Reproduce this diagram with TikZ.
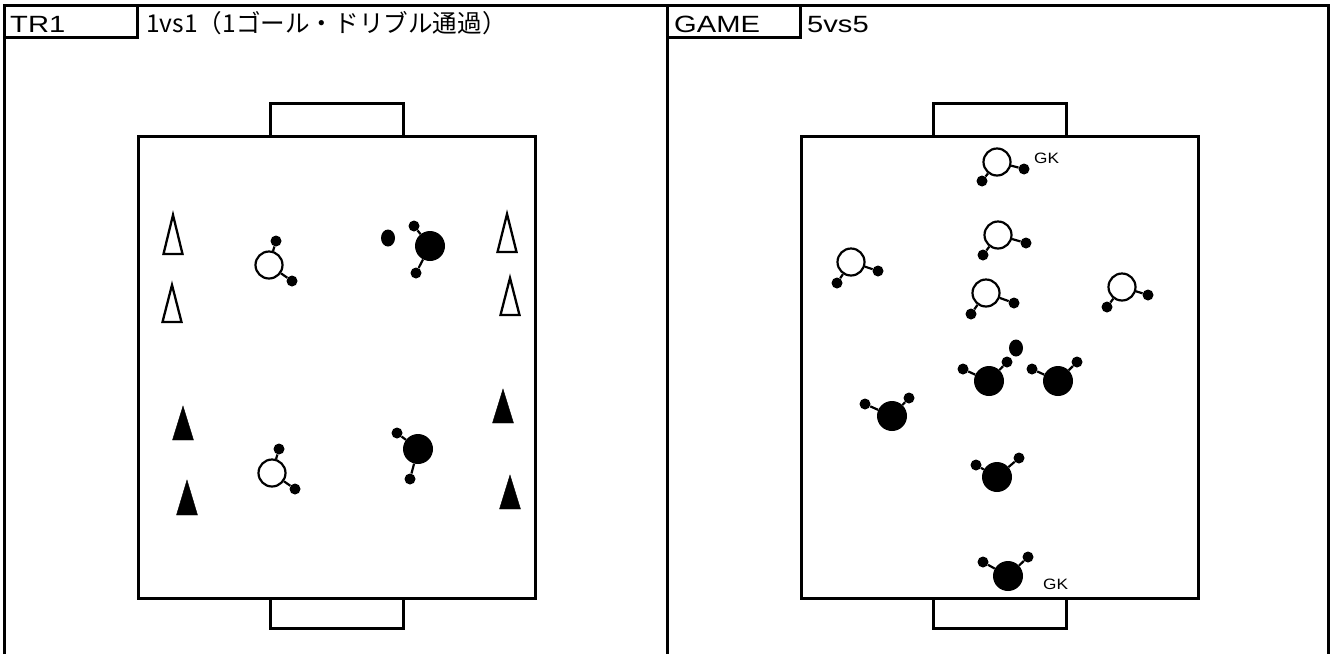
\documentclass[tikz,border=0pt]{standalone}
\usepackage{fontspec}
\setmainfont{Liberation Sans}
\newfontfamily\jpfont{Noto Sans CJK JP}
\usetikzlibrary{shapes.geometric}
\tikzset{
  frame/.style={line width=3pt},
  hdr/.style={anchor=base west, inner sep=0pt, font=\fontsize{23.5}{28}\selectfont},
  wp/.style={circle, draw, line width=2.2pt, minimum size=27pt, inner sep=0pt, fill=white},
  bp/.style={circle, fill=black, minimum size=30pt, inner sep=0pt},
  dot/.style={circle, fill=black, minimum size=11pt, inner sep=0pt},
  stem/.style={line width=2.2pt},
  ballst/.style={ellipse, fill=black, minimum width=14pt, minimum height=17pt, inner sep=0pt},
  wcone/.style={draw, line width=2.3pt, fill=white},
  bcone/.style={fill=black},
  gk/.style={anchor=base west, inner sep=0pt, font=\fontsize{15}{17}\selectfont}
}
\newcommand\wide[1]{\scalebox{1.24}[1]{#1}}
\newcommand\plyr[5]{%
  \node[#5] (#1) at (#2) {};
  \node[dot] (#1a) at (#3) {};
  \node[dot] (#1b) at (#4) {};
  \draw[stem] (#1) -- (#1a);
  \draw[stem] (#1) -- (#1b);
}
\newcommand\conedraw[5]{%
  \draw[#5] (#1,#2) -- (#1-#4,#3) -- (#1+#4,#3) -- cycle;
}
\begin{document}
\begin{tikzpicture}[x=1pt,y=-1pt]
\useasboundingbox (0,0) rectangle (1332,654);
% outer frame
\draw[frame] (4,654) -- (4,5) -- (1328,5) -- (1328,654);
\draw[frame] (667,5) -- (667,654);
\draw[frame] (4,37) -- (137,37) -- (137,5);
\draw[frame] (667,37) -- (800,37) -- (800,5);
% headers
\node[hdr] (tr) at (10,32) {\wide{TR1}};
\node[hdr, font=\fontsize{24.6}{28}\selectfont] (title) at (146,32) {\jpfont 1vs1（1ゴール・ドリブル通過）};
\node[hdr] (game) at (674,32) {\wide{GAME}};
\node[hdr] (fvf) at (807,32) {\wide{5vs5}};
% left field
\draw[frame] (138,136) rectangle (535,598);
\draw[frame] (270,103) rectangle (403,136);
\draw[frame] (270,598) rectangle (403,628);
% right field
\draw[frame] (801,136) rectangle (1198,598);
\draw[frame] (933,103) rectangle (1066,136);
\draw[frame] (933,598) rectangle (1066,628);
% cones
\conedraw{173}{215}{254}{9.5}{wcone}
\conedraw{172}{285}{322}{9.5}{wcone}
\conedraw{507}{214}{252}{9.5}{wcone}
\conedraw{510}{278}{315}{9.5}{wcone}
\conedraw{183}{406}{440}{10.5}{bcone}
\conedraw{187}{480}{515}{10.5}{bcone}
\conedraw{503}{389}{423}{10.5}{bcone}
\conedraw{510}{475}{509}{10.5}{bcone}
% left players
\plyr{lw1}{269,265}{276,241}{292,281}{wp}
\plyr{lb1}{430,246}{414,226}{416,273}{bp}
\node[ballst] (lball) at (388,238) {};
\plyr{lw2}{272,473}{279,449}{295,489}{wp}
\plyr{lb2}{418,449}{397,433}{410,479}{bp}
% right whites
\plyr{rgk}{997,162}{982,181}{1024,169}{wp}
\plyr{rw2}{998,235}{983,255}{1026,243}{wp}
\plyr{rw3}{851,262}{837,283}{878,271}{wp}
\plyr{rw4}{986,293}{971,314}{1014,303}{wp}
\plyr{rw5}{1122,287}{1107,307}{1148,295}{wp}
\node[gk] (gk1) at (1034,163) {\scalebox{1.15}[1]{GK}};
% right blacks
\node[ballst] (rball) at (1016,348) {};
\plyr{rb1}{989,381}{963,369}{1007,362}{bp}
\plyr{rb2}{1058,381}{1032,369}{1077,362}{bp}
\plyr{rb3}{892,416}{865,404}{909,398}{bp}
\plyr{rb4}{997,477}{976,465}{1019,458}{bp}
\plyr{rb5}{1008,576}{983,562}{1028,557}{bp}
\node[gk] (gk2) at (1043,589) {\scalebox{1.15}[1]{GK}};
\end{tikzpicture}
\end{document}
